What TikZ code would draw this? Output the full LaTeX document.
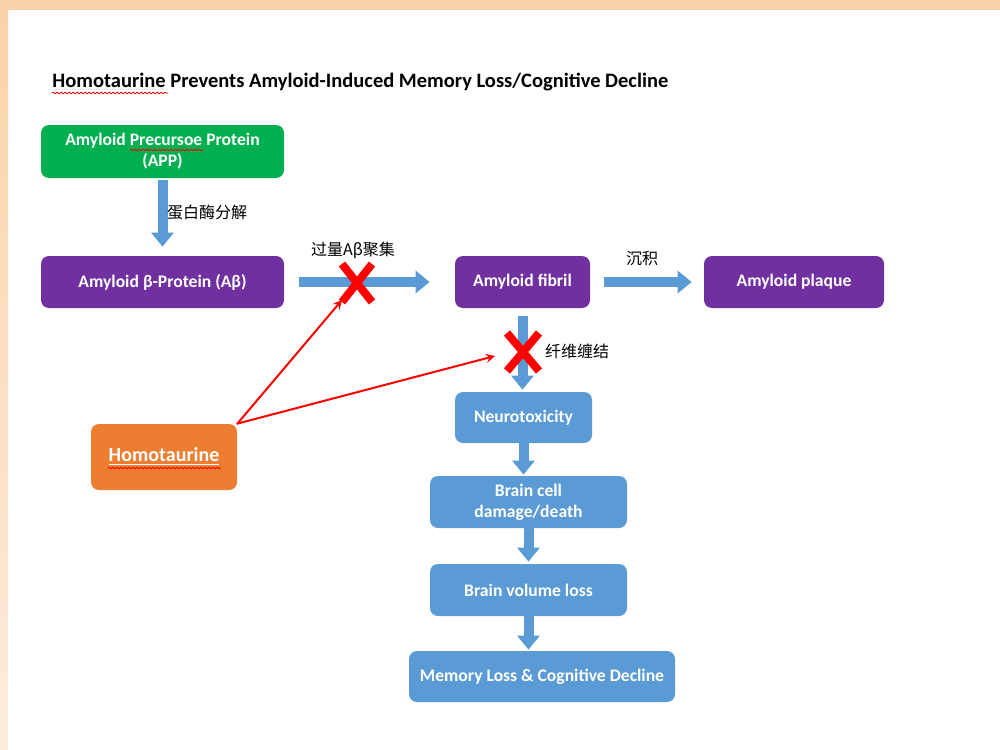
\documentclass[tikz,border=0pt]{standalone}
\usepackage{fontspec}
\setmainfont{Carlito}
\newfontfamily\cjk{Noto Sans CJK SC}
\usetikzlibrary{arrows.meta,decorations.pathmorphing}
\definecolor{boxgreen}{RGB}{0,176,80}
\definecolor{boxpurple}{RGB}{112,48,160}
\definecolor{boxblue}{RGB}{91,155,213}
\definecolor{boxorange}{RGB}{237,125,49}
\definecolor{peach}{RGB}{251,211,168}
\definecolor{peachlight}{RGB}{253,236,220}
\begin{document}
\begin{tikzpicture}[x=0.5pt,y=-0.5pt,>=stealth, font=\bfseries\fontsize{8.8}{10.5}\selectfont, line join=round, line cap=round]
	\tikzset{box/.style={rounded corners=4pt, text=white, align=center, inner sep=0pt, minimum height=26pt},
		flow/.style={boxblue, line width=5pt, line cap=butt, -{Triangle[width=11pt,length=7pt]}},
		cross/.style={red, line width=4pt, line cap=butt},
		block/.style={red, line width=1pt, ->},
		wavy/.style={red, line width=0.4pt, decorate, decoration={snake, amplitude=0.4pt, segment length=2pt}},
		note/.style={font=\cjk\fontsize{8}{9}\selectfont}}
	% page and border
	\useasboundingbox (0,0) rectangle (1000,749);
	\fill[white] (0,0) rectangle (1000,749);
	\fill[peach] (0,0) rectangle (1000,10);
	\shade[top color=peach, bottom color=peachlight] (0,10) rectangle (8,749);
	\node[anchor=west, inner sep=0pt, font=\bfseries\fontsize{10.25}{12}\selectfont] (title) at (52,82) {Homotaurine Prevents Amyloid-Induced Memory Loss/Cognitive Decline};
	\draw[wavy] (52,93)--(168,93);
	% boxes
	\node[box, fill=boxgreen, minimum width=121.5pt, minimum height=26.5pt] (app) at (162.5,151.5) {Amyloid Precursoe Protein\\(APP)};
	\draw[wavy] (130,150)--(203,150);
	\node[box, fill=boxpurple, minimum width=121.5pt] (ab) at (162.5,282) {Amyloid β-Protein (Aβ)};
	\node[box, fill=boxpurple, minimum width=67.5pt] (fibril) at (522.5,282) {Amyloid fibril};
	\node[box, fill=boxpurple, minimum width=90pt] (plaque) at (794,282) {Amyloid plaque};
	\node[box, fill=boxblue, minimum width=68.5pt, minimum height=25.5pt] (neuro) at (523.5,417.5) {Neurotoxicity};
	\node[box, fill=boxblue, minimum width=98.5pt] (cell) at (528.5,502) {Brain cell\\damage/death};
	\node[box, fill=boxblue, minimum width=98.5pt] (volume) at (528.5,590) {Brain volume loss};
	\node[box, fill=boxblue, minimum width=133pt, minimum height=25.5pt] (memory) at (542,676.5) {Memory Loss \& Cognitive Decline};
	\node[box, fill=boxorange, minimum width=73pt, minimum height=33pt, font=\bfseries\fontsize{10}{12}\selectfont] (homo) at (164,457) {\underline{Homotaurine}};
	\draw[wavy] (108,468)--(221,468);
	% flow arrows
	\draw[flow] ([yshift=-1pt]app.south)--([yshift=4.5pt]ab.north);
	\draw[flow] ([xshift=7.5pt]ab.east)--([xshift=-12.5pt]fibril.west);
	\draw[flow] ([xshift=7pt]fibril.east)--([xshift=-6pt]plaque.west);
	\draw[flow] ([yshift=-4pt]fibril.south)--([yshift=1pt]fibril.south |- neuro.north);
	\draw[flow] (neuro.south)--([yshift=0.5pt]neuro.south |- cell.north);
	\draw[flow] (cell.south)--([yshift=1pt]cell.south |- volume.north);
	\draw[flow] (volume.south)--([yshift=0.5pt]volume.south |- memory.north);
	\node[note] (cleave) at (207,212) {蛋白酶分解};
	\node[note] (aggregate) at (353,250) {过量Aβ聚集};
	\node[note] (deposit) at (642,258) {沉积};
	\node[note, anchor=west] (tangle) at (538,351) {纤维缠结};
	% blocking
	\coordinate (stop1) at (357,283);
	\coordinate (stop2) at (523,352);
	\draw[cross] ([shift={(-7.5pt,9.5pt)}]stop1)--([shift={(7.5pt,-9.5pt)}]stop1) ([shift={(7.5pt,9.5pt)}]stop1)--([shift={(-7.5pt,-9.5pt)}]stop1);
	\draw[cross] ([shift={(-8pt,9.5pt)}]stop2)--([shift={(8pt,-9.5pt)}]stop2) ([shift={(8pt,9.5pt)}]stop2)--([shift={(-8pt,-9.5pt)}]stop2);
	\draw[block] (homo.north east)--([shift={(-7.5pt,-8.5pt)}]stop1);
	\draw[block] (homo.north east)--([shift={(-14pt,-2pt)}]stop2);
\end{tikzpicture}
\end{document}
